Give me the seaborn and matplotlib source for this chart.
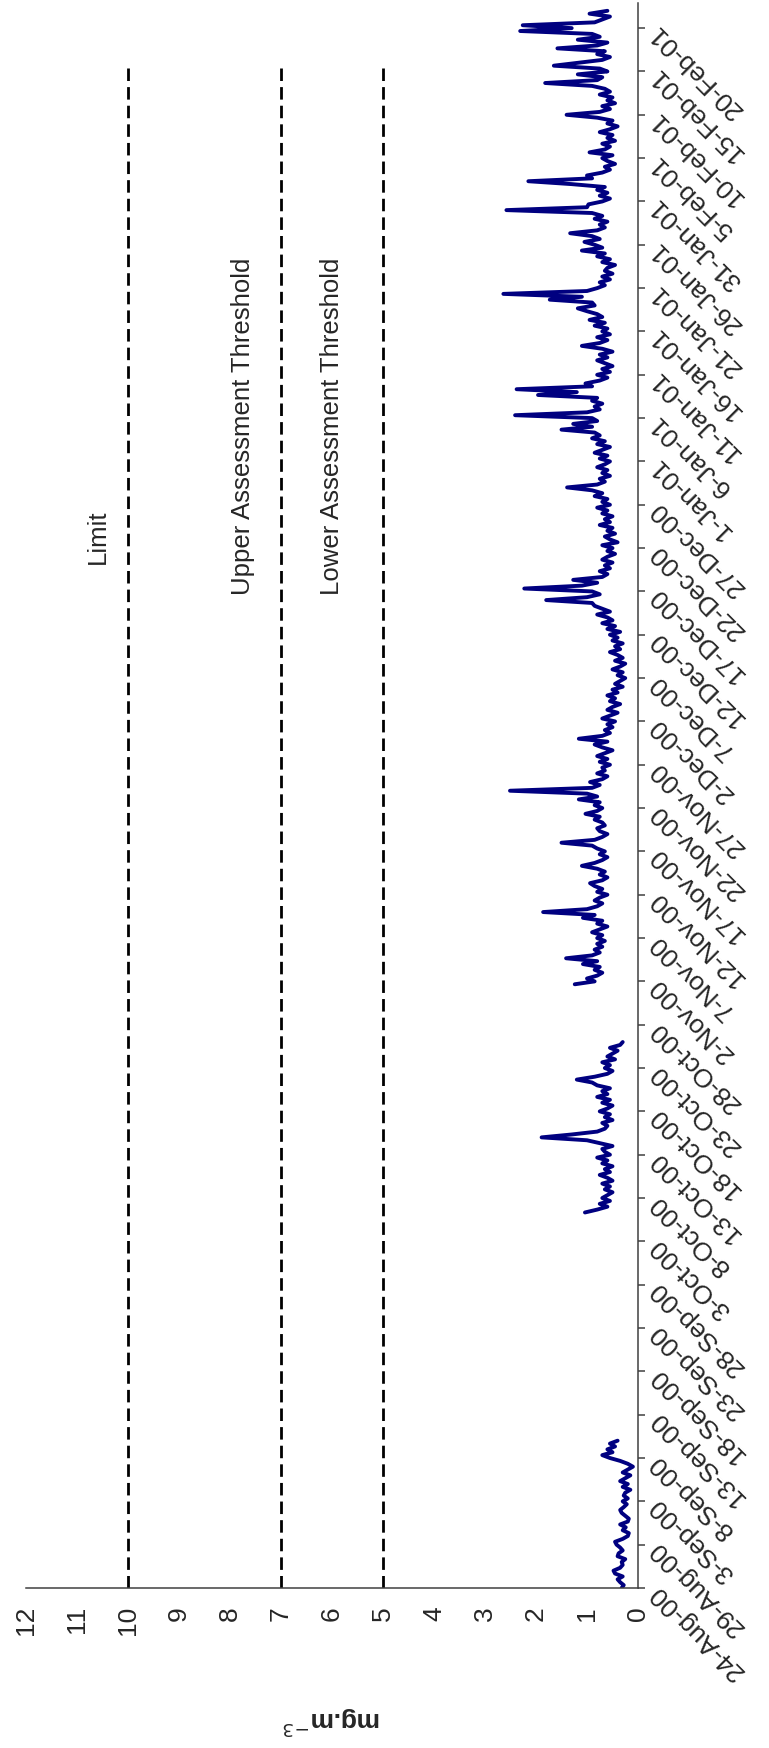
import matplotlib
matplotlib.use('Agg')
import matplotlib.pyplot as plt
import pandas as pd
import seaborn as sns

# CO 8-hour means (mg.m-3), three measuring periods
step = '8h'

seg1_start = '2000-08-24 00:00'
seg1_values = [0.32, 0.28, 0.35, 0.4, 0.3, 0.45, 0.48, 0.35, 0.3, 0.32, 0.25, 0.4,
               0.38, 0.3, 0.35, 0.42, 0.45, 0.3, 0.2, 0.18, 0.3, 0.24, 0.35, 0.2,
               0.18, 0.25, 0.32, 0.35, 0.28, 0.22, 0.3, 0.2, 0.28, 0.25, 0.15, 0.3,
               0.2, 0.35, 0.25, 0.15, 0.3, 0.2, 0.1, 0.2, 0.35, 0.55, 0.7, 0.5,
               0.6, 0.45, 0.55, 0.4]

seg2_start = '2000-10-06 08:00'
seg2_values = [1.04, 0.8, 0.6, 0.75, 0.55, 0.7, 0.6, 0.5, 0.65, 0.55,
               0.7, 0.5, 0.6, 0.75, 0.55, 0.65, 0.5, 0.7, 0.6, 0.8,
               0.55, 0.65, 0.7, 0.5, 0.75, 1.0, 1.89, 1.3, 0.8, 0.65,
               0.6, 0.7, 0.5, 0.65, 0.55, 0.75, 0.6, 0.5, 0.7, 0.55,
               0.8, 0.6, 0.7, 0.55, 0.8, 0.9, 1.2, 0.85, 0.6, 0.5,
               0.65, 0.55, 0.7, 0.45, 0.6, 0.5, 0.4, 0.55, 0.35, 0.3]

seg3_start = '2000-11-01 16:00'
seg3_values = [1.24, 0.85, 1.0, 0.8, 0.7, 0.85, 0.75, 1.08, 0.8, 1.41, 0.9, 0.75, 0.85, 0.7, 0.8,
               0.65, 0.8, 0.7, 0.9, 0.75, 0.6, 0.8, 0.7, 1.08, 0.85, 1.86, 1.0, 0.8, 0.7, 0.85,
               0.75, 0.6, 0.8, 0.7, 0.85, 0.94, 0.7, 0.6, 0.75, 0.65, 0.8, 1.10, 0.85, 0.7, 0.6,
               0.75, 0.65, 0.8, 0.9, 1.50, 0.85, 0.7, 0.6, 0.75, 0.8, 0.65, 0.7, 0.85, 0.75, 1.03,
               0.8, 0.7, 0.85, 0.75, 1.16, 0.8, 1.0, 2.51, 0.9, 0.75, 0.94, 0.7, 0.6, 0.8, 0.65,
               0.7, 0.55, 0.75, 0.6, 0.8, 0.65, 0.5, 0.7, 0.85, 0.6, 1.16, 0.7, 0.55, 0.65, 0.5,
               0.6, 0.45, 0.7, 0.55, 0.4, 0.6, 0.5, 0.35, 0.55, 0.45, 0.6, 0.4, 0.5, 0.3, 0.45,
               0.35, 0.25, 0.4, 0.3, 0.5, 0.35, 0.25, 0.45, 0.3, 0.4, 0.55, 0.35, 0.45, 0.3, 0.5,
               0.4, 0.55, 0.35, 0.6, 0.45, 0.7, 0.5, 0.6, 0.8, 0.55, 0.7, 0.85, 0.9, 1.80, 1.0,
               0.75, 0.9, 2.23, 1.1, 0.8, 1.27, 0.7, 0.6, 0.75, 0.55, 0.65, 0.5, 0.7, 0.6, 0.45,
               0.6, 0.5, 0.7, 0.4, 0.55, 0.65, 0.45, 0.6, 0.5, 0.75, 0.55, 0.65, 0.5, 0.7, 0.6,
               0.8, 0.55, 0.7, 0.6, 0.85, 0.7, 0.9, 1.39, 0.8, 0.65, 0.75, 0.55, 0.7, 0.6, 0.8,
               0.65, 0.55, 0.75, 0.6, 0.85, 0.7, 0.55, 0.8, 0.65, 0.9, 0.75, 0.85, 1.50, 0.9, 1.27,
               0.8, 0.9, 2.41, 1.0, 0.75, 0.85, 0.7, 0.9, 0.8, 1.96, 1.2, 2.38, 0.9, 1.03, 0.75,
               0.6, 0.8, 0.55, 0.7, 0.5, 0.65, 0.8, 0.6, 0.75, 0.5, 0.7, 1.10, 0.75, 0.6, 0.8,
               0.55, 0.7, 0.6, 0.85, 0.65, 0.95, 0.7, 0.8, 1.0, 1.18, 0.85, 0.9, 1.73, 1.1, 2.64,
               1.0, 0.8, 0.65, 0.75, 0.55, 0.7, 0.5, 0.65, 0.6, 0.45, 0.7, 0.55, 0.8, 0.65, 1.10,
               0.7, 0.85, 1.05, 0.75, 0.9, 1.33, 0.8, 0.65, 0.75, 0.6, 0.85, 0.7, 0.9, 2.58, 1.0,
               0.97, 0.7, 0.55, 0.75, 0.6, 0.8, 0.65, 1.3, 2.15, 0.9, 1.0, 0.7, 0.55, 0.65, 0.45,
               0.6, 0.7, 0.5, 0.95, 0.65, 0.55, 0.7, 0.45, 0.6, 0.5, 0.75, 0.55, 0.4, 0.6, 0.5,
               0.8, 1.40, 0.75, 0.55, 0.7, 0.45, 0.6, 0.5, 0.75, 0.55, 0.65, 0.9, 1.82, 0.8, 0.7,
               1.18, 0.6, 0.75, 1.65, 1.18, 0.7, 0.55, 0.8, 0.65, 1.58, 0.8, 0.6, 1.18, 0.75, 0.9,
               2.31, 1.30, 2.26, 0.85, 0.7, 0.55, 0.95, 0.6]

# thresholds (mg.m-3) and where their captions sit
threshold_names = ['Limit', 'Upper Assessment Threshold', 'Lower Assessment Threshold']
threshold_values = [10, 7, 5]
threshold_text_at = [10.6, 7.75, 6.0]
threshold_text_top = ['2000-12-26 10:00', '2001-01-24 12:00', '2001-01-24 12:00']

axis_start = pd.Timestamp('2000-08-24')
axis_end = axis_start + pd.Timedelta(days=182.9)
threshold_end = pd.Timestamp('2001-02-15 18:00')
last_label = '2001-02-20'

frames = []
for i, (start, vals) in enumerate([(seg1_start, seg1_values),
                                   (seg2_start, seg2_values),
                                   (seg3_start, seg3_values)]):
    t = pd.date_range(start, periods=len(vals), freq=step)
    frames.append(pd.DataFrame({'date': t, 'co': vals, 'period': i}))
data = pd.concat(frames, ignore_index=True)

sns.set_theme(style='white')
plt.rcParams['font.family'] = ['Liberation Sans', 'DejaVu Sans']

fig = plt.figure(figsize=(7.69, 17.48), dpi=100)
ax = fig.add_axes([26 / 769, 160 / 1748, 612 / 769, 1585 / 1748])

# chart lies on its side: value runs right-to-left, time runs upward
sns.lineplot(data=data, x='co', y='date', units='period', estimator=None,
             orient='y', sort=False, color='#000080', linewidth=2.8, ax=ax)

for name, val, tx, ttop in zip(threshold_names, threshold_values,
                               threshold_text_at, threshold_text_top):
    ax.plot([val, val], [axis_start, threshold_end], color='black',
            linewidth=2.0, dashes=(4.5, 2.2))
    ax.text(tx, pd.Timestamp(ttop), name, rotation=90, ha='center', va='top',
            fontsize=18.5)

ax.set_xlim(12, 0)
ax.set_ylim(axis_start, axis_end)
ax.set_xticks(range(0, 13))
ax.set_xticklabels([str(v) for v in range(0, 13)], rotation=90, fontsize=19)

ticks = pd.date_range(axis_start, last_label, freq='5D')
ax.set_yticks(ticks)
ax.set_yticklabels([f"{d.day}-{d.strftime('%b-%y')}" for d in ticks],
                   rotation=135, rotation_mode='anchor', ha='right', va='center',
                   fontsize=19)
ax.yaxis.tick_right()
ax.tick_params(axis='x', direction='out', length=5, width=1.1, color='#404040', pad=8)
ax.tick_params(axis='y', direction='out', length=5, width=1.1, color='#404040', pad=6)

for side in ['top', 'left']:
    ax.spines[side].set_visible(False)
for side in ['bottom', 'right']:
    ax.spines[side].set_color('#404040')
    ax.spines[side].set_linewidth(1.1)

ax.set_ylabel('')
ax.set_xlabel('mg.m$^{-3}$', rotation=180, fontsize=19, fontweight='bold',
              va='center')
ax.xaxis.set_label_coords(0.5, -(1721 - 1588) / 1585)

fig.savefig('out.png', dpi=100)
